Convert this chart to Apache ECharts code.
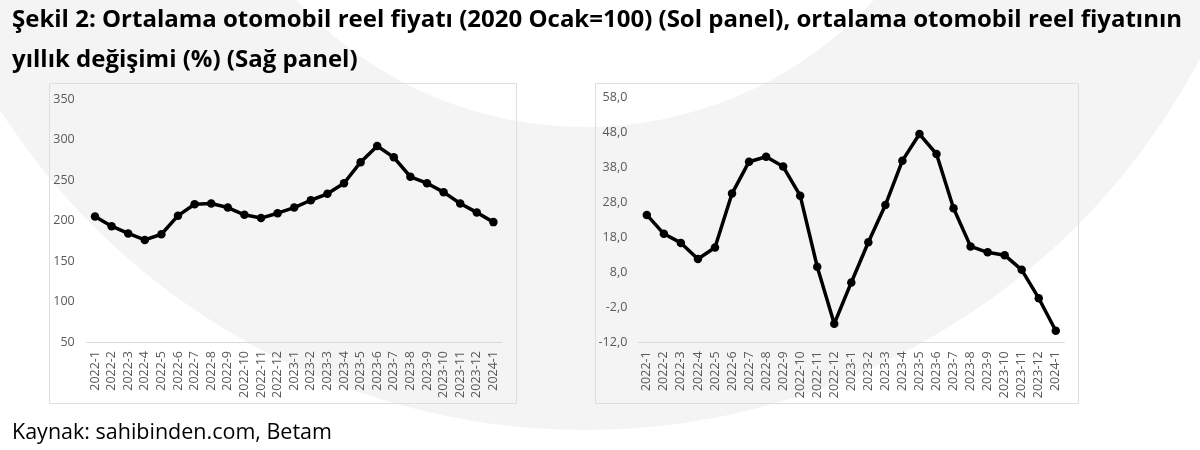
<!DOCTYPE html>
<html>
<head>
<meta charset="utf-8">
<script src="https://cdn.jsdelivr.net/npm/echarts@6/dist/echarts.min.js"></script>
<style>
html,body{margin:0;padding:0;background:#fff;}
#main{width:1200px;height:450px;}
</style>
</head>
<body>
<div id="main"></div>
<script>
const categories = ['2022-1','2022-2','2022-3','2022-4','2022-5','2022-6','2022-7','2022-8','2022-9','2022-10','2022-11','2022-12',
  '2023-1','2023-2','2023-3','2023-4','2023-5','2023-6','2023-7','2023-8','2023-9','2023-10','2023-11','2023-12','2024-1'];
const realPrice = [205,193,184,176,183,206,220,221,216,207,203,209,216,225,233,246,272,292,278,254,246,235,221,210,198];
const yearlyChange = [24.4,19.0,16.4,11.8,15.1,30.5,39.6,41.0,38.2,29.9,9.6,-6.7,5.1,16.6,27.2,39.9,47.5,41.8,26.3,15.4,13.7,12.9,8.7,0.6,-8.7];
const titleLines = ['Şekil 2: Ortalama otomobil reel fiyatı (2020 Ocak=100) (Sol panel), ortalama otomobil reel fiyatının','yıllık değişimi (%) (Sağ panel)'];
const sourceText = 'Kaynak: sahibinden.com, Betam';

const FONT = '"Open Sans", sans-serif';
const chart = echarts.init(document.getElementById('main'), null, {renderer:'canvas'});

function xAxisCfg(gridIndex){
  return {
    type:'category', gridIndex, data:categories, boundaryGap:true,
    axisLine:{show:true,onZero:false,lineStyle:{color:'#d9d9d9',width:1}},
    axisTick:{show:false},
    axisLabel:{rotate:90,interval:0,margin:9,color:'#595959',fontSize:12.5,fontFamily:FONT}
  };
}
const lineSeries = (xi, data) => ({
  type:'line', xAxisIndex:xi, yAxisIndex:xi, data,
  symbol:'circle', symbolSize:8.5, showSymbol:true,
  lineStyle:{color:'#000',width:3.5}, itemStyle:{color:'#000'},
  animation:false, z:5
});

chart.setOption({
  backgroundColor:'#fff',
  animation:false,
  graphic:[
    {type:'ring', shape:{cx:585, cy:-265, r:695, r0:392}, style:{fill:'#f4f4f4'}, z:-10, silent:true},
    {type:'rect', shape:{x:49.5, y:83.5, width:467, height:320}, style:{fill:'none', stroke:'#dedede', lineWidth:1}, z:-5},
    {type:'rect', shape:{x:595.5, y:83.5, width:483, height:320}, style:{fill:'none', stroke:'#dedede', lineWidth:1}, z:-5},
    {type:'text', left:12, top:8, style:{text:titleLines[0], font:'bold 24px '+FONT, fill:'#000'}},
    {type:'text', left:12, top:48, style:{text:titleLines[1], font:'bold 24px '+FONT, fill:'#000'}},
    {type:'text', left:12, top:422, style:{text:sourceText, font:'21.5px '+FONT, fill:'#000'}}
  ],
  grid:[
    {left:86.7, right:698.3, top:99, bottom:108},
    {left:638.3, right:135.7, top:97.3, bottom:107.7}
  ],
  xAxis:[xAxisCfg(0), xAxisCfg(1)],
  yAxis:[
    {type:'value', gridIndex:0, min:50, max:350, interval:50,
     axisLine:{show:false}, axisTick:{show:false}, splitLine:{show:false},
     axisLabel:{margin:12,color:'#595959',fontSize:12.5,fontFamily:FONT}},
    {type:'value', gridIndex:1, min:-12, max:58, interval:10,
     axisLine:{show:false}, axisTick:{show:false}, splitLine:{show:false},
     axisLabel:{margin:11,color:'#595959',fontSize:12.5,fontFamily:FONT,
       formatter:v=>v.toFixed(1).replace('.',',')}}
  ],
  series:[lineSeries(0, realPrice), lineSeries(1, yearlyChange)]
});
</script>
</body>
</html>
